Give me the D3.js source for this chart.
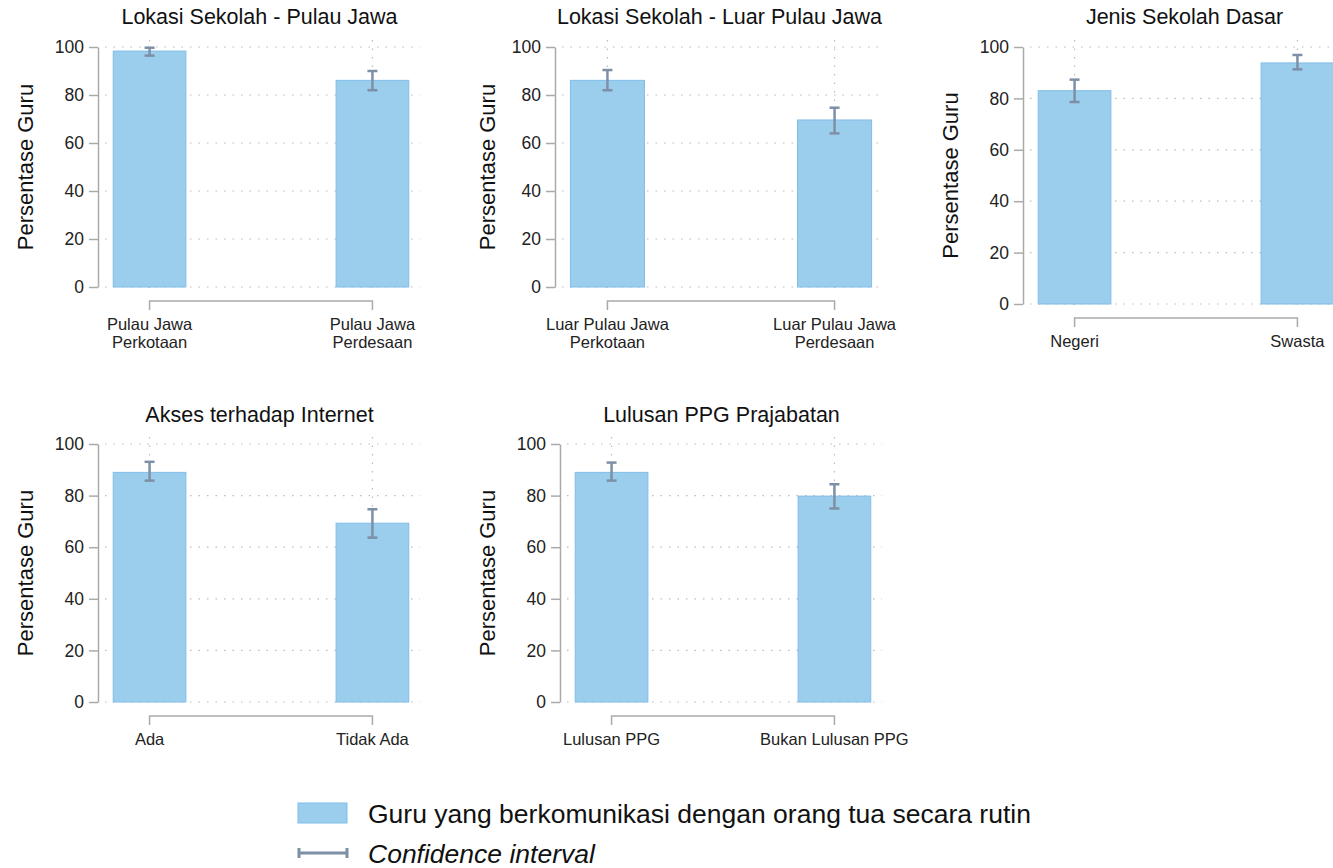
<!DOCTYPE html>
<html lang="en">
<head>
    <meta charset="UTF-8">
    <title>Persentase Guru</title>
    <script src="https://d3js.org/d3.v7.min.js"></script>
    <style>
        body { margin: 0; background: #fff; }
        svg { font-family: "Liberation Sans", Arial, sans-serif; }
        .tick text { fill: #222; }
    </style>
</head>
<body>
<svg id="chart" width="1333" height="868"></svg>
<script>
    // data
    var panelTitles = ["Lokasi Sekolah - Pulau Jawa", "Lokasi Sekolah - Luar Pulau Jawa", "Jenis Sekolah Dasar",
        "Akses terhadap Internet", "Lulusan PPG Prajabatan"];
    var categories = [
        ["Pulau Jawa\nPerkotaan", "Pulau Jawa\nPerdesaan"],
        ["Luar Pulau Jawa\nPerkotaan", "Luar Pulau Jawa\nPerdesaan"],
        ["Negeri", "Swasta"],
        ["Ada", "Tidak Ada"],
        ["Lulusan PPG", "Bukan Lulusan PPG"]
    ];
    var values = [[98.3, 86.1], [86.1, 69.6], [83.0, 93.8], [89.0, 69.3], [89.0, 79.8]];
    var ciLow  = [[96.4, 82.0], [82.0, 64.0], [78.6, 91.3], [85.8, 63.7], [85.8, 75.0]];
    var ciHigh = [[99.7, 90.0], [90.4, 74.7], [87.3, 96.9], [93.1, 74.7], [92.8, 84.4]];
    var yTicks = [0, 20, 40, 60, 80, 100];
    var yLabel = "Persentase Guru";
    var legendLabels = ["Guru yang berkomunikasi dengan orang tua secara rutin", "Confidence interval"];

    // layout of each small chart
    var panels = [
        {axisX: 98,   top: 47,  bottom: 287, w: 312, titleY: 24,  labelX: 33},
        {axisX: 555,  top: 47,  bottom: 287, w: 318, titleY: 24,  labelX: 495},
        {axisX: 1023, top: 47,  bottom: 304, w: 312, titleY: 24,  labelX: 958},
        {axisX: 98,   top: 444, bottom: 702, w: 312, titleY: 422, labelX: 33},
        {axisX: 560,  top: 444, bottom: 702, w: 312, titleY: 422, labelX: 495}
    ];

    var barFill = "#9bcdec", barStroke = "#80bde9", ciColor = "#7d90a6";
    var svg = d3.select("#chart");

    panels.forEach(function (p, i) {
        var g = svg.append("g");
        var left = p.axisX + 7, right = left + p.w;

        var x = d3.scalePoint().domain(categories[i]).range([left, right]).padding(0.2);
        var step = x.step();
        var bw = step * 0.326;
        var y = d3.scaleLinear().domain([0, 100]).range([p.bottom, p.top]);

        // dotted grid
        g.selectAll(".hgrid").data(yTicks).enter().append("line")
            .attr("x1", left).attr("x2", right + 3)
            .attr("y1", d => y(d)).attr("y2", d => y(d))
            .attr("stroke", "#bbb").attr("stroke-width", 1.2).attr("stroke-dasharray", "1.5,7");
        g.selectAll(".vgrid").data(categories[i]).enter().append("line")
            .attr("x1", d => x(d)).attr("x2", d => x(d))
            .attr("y1", p.top - 7).attr("y2", p.bottom + 7)
            .attr("stroke", "#bbb").attr("stroke-width", 1.2).attr("stroke-dasharray", "1.5,7");

        // bars
        g.selectAll(".bar").data(categories[i]).enter().append("rect")
            .attr("x", d => x(d) - bw / 2)
            .attr("width", bw)
            .attr("y", (d, j) => y(values[i][j]))
            .attr("height", (d, j) => y(0) - y(values[i][j]))
            .attr("fill", barFill).attr("stroke", barStroke).attr("stroke-width", 1);

        // confidence intervals
        categories[i].forEach(function (c, j) {
            var cx = x(c);
            g.append("line").attr("x1", cx).attr("x2", cx)
                .attr("y1", y(ciLow[i][j])).attr("y2", y(ciHigh[i][j]))
                .attr("stroke", ciColor).attr("stroke-width", 2.5);
            [ciLow[i][j], ciHigh[i][j]].forEach(function (v) {
                g.append("line").attr("x1", cx - 5).attr("x2", cx + 5)
                    .attr("y1", y(v)).attr("y2", y(v))
                    .attr("stroke", ciColor).attr("stroke-width", 2.5);
            });
        });

        // y axis
        var ya = g.append("g").attr("transform", "translate(" + p.axisX + ",0)")
            .call(d3.axisLeft(y).tickValues(yTicks).tickSize(9).tickSizeOuter(0).tickPadding(5));
        ya.select(".domain").attr("stroke", "#aaa").attr("stroke-width", 1.5);
        ya.selectAll(".tick line").attr("stroke", "#aaa").attr("stroke-width", 1.5);
        ya.selectAll(".tick text").attr("font-size", 17.5).attr("fill", "#222");

        // category bracket
        var by = p.bottom + 14;
        var first = x(categories[i][0]), last = x(categories[i][categories[i].length - 1]);
        g.append("path")
            .attr("d", "M" + first + "," + (by + 9) + "V" + by + "H" + last + "V" + (by + 9))
            .attr("fill", "none").attr("stroke", "#aaa").attr("stroke-width", 1.5);

        // category labels
        categories[i].forEach(function (c) {
            var t = g.append("text").attr("text-anchor", "middle").attr("font-size", 16.5).attr("fill", "#222");
            c.split("\n").forEach(function (line, k) {
                t.append("tspan").attr("x", x(c)).attr("y", p.bottom + 43 + k * 18).text(line);
            });
        });

        // title
        g.append("text").attr("x", (p.axisX + right) / 2 + 2).attr("y", p.titleY)
            .attr("text-anchor", "middle").attr("font-size", 21.5).attr("fill", "#111")
            .text(panelTitles[i]);

        // y label
        g.append("text")
            .attr("transform", "translate(" + p.labelX + "," + ((p.top + p.bottom) / 2) + ") rotate(-90)")
            .attr("text-anchor", "middle").attr("font-size", 22).attr("fill", "#111")
            .text(yLabel);
    });

    // legend
    var lg = svg.append("g");
    lg.append("rect").attr("x", 298).attr("y", 803).attr("width", 49).attr("height", 20)
        .attr("fill", barFill).attr("stroke", barStroke);
    lg.append("text").attr("x", 368).attr("y", 823).attr("font-size", 26.5).attr("fill", "#111")
        .text(legendLabels[0]);
    lg.append("line").attr("x1", 299).attr("x2", 347).attr("y1", 853).attr("y2", 853)
        .attr("stroke", ciColor).attr("stroke-width", 3);
    [299, 347].forEach(function (lx) {
        lg.append("line").attr("x1", lx).attr("x2", lx).attr("y1", 848).attr("y2", 858)
            .attr("stroke", ciColor).attr("stroke-width", 3);
    });
    lg.append("text").attr("x", 368).attr("y", 863).attr("font-size", 26.5).attr("fill", "#111")
        .attr("font-style", "italic").text(legendLabels[1]);
</script>
</body>
</html>
